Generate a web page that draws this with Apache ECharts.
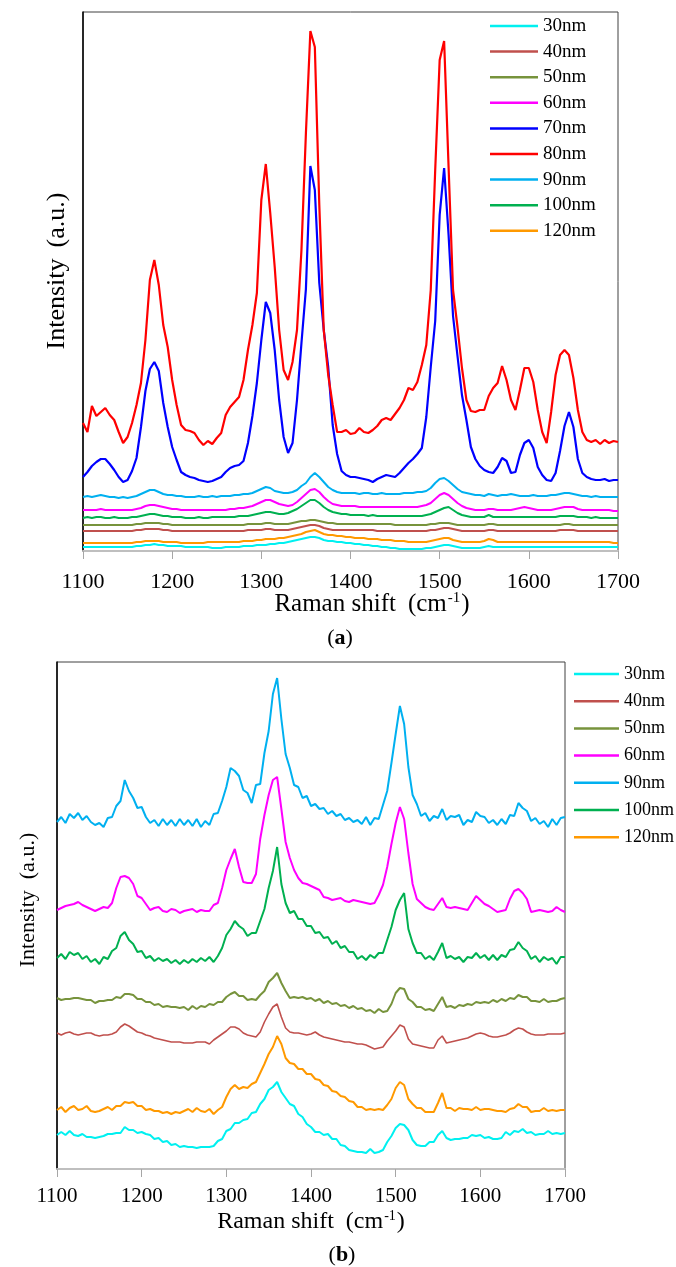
<!DOCTYPE html>
<html><head><meta charset="utf-8">
<script src="https://cdn.jsdelivr.net/npm/echarts@6/dist/echarts.min.js"></script>
<style>html,body{margin:0;padding:0;background:#fff}#c{width:676px;height:1267px}</style>
</head><body><div id="c"></div>
<script>
// Raman shift sampling positions (cm-1)
const shift = [1100,1105,1110,1115,1120,1125,1130,1135,1140,1145,
1150,1155,1160,1165,1170,1175,1180,1185,1190,1195,
1200,1205,1210,1215,1220,1225,1230,1235,1240,1245,
1250,1255,1260,1265,1270,1275,1280,1285,1290,1295,
1300,1305,1310,1315,1320,1325,1330,1335,1340,1345,
1350,1355,1360,1365,1370,1375,1380,1385,1390,1395,
1400,1405,1410,1415,1420,1425,1430,1435,1440,1445,
1450,1455,1460,1465,1470,1475,1480,1485,1490,1495,
1500,1505,1510,1515,1520,1525,1530,1535,1540,1545,
1550,1555,1560,1565,1570,1575,1580,1585,1590,1595,
1600,1605,1610,1615,1620,1625,1630,1635,1640,1645,
1650,1655,1660,1665,1670,1675,1680,1685,1690,1695,
1700];

const legendA = ['30nm','40nm','50nm','60nm','70nm','80nm','90nm','100nm','120nm'];
const legendB = ['30nm','40nm','50nm','60nm','90nm','100nm','120nm'];

// ---- panel (a) intensities (a.u.) ----
const a30 = [4,4,4,4,4,4,4,4,4,4, 4,4,5,5,6,6,7,6,6,5, 5,5,5,4,4,4,4,4,4,3, 3,3,4,4,4,4,5,5,5,6,
 6,6,7,7,8,8,9,10,11,12, 13,14,14,13,11,10,10,9,9,8, 8,7,7,6,6,5,5,4,4,3, 3,2,2,2,2,2,2,3,3,4,
 5,6,6,5,4,3,3,3,3,3, 4,5,4,4,4,4,4,4,4,4, 4,4,4,4,4,4,4,4,4,4, 4,4,4,4,4,4,4,4,4,4, 4];
const a40 = [20,20,20,20,20,20,20,20,20,20, 20,20,21,21,22,22,22,22,21,21, 20,20,20,20,20,20,20,20,20,20, 20,20,20,20,20,20,20,21,21,21,
 21,22,22,21,21,21,21,22,23,24, 25,26,26,25,23,22,21,21,21,21, 21,21,21,21,21,21,20,20,20,20, 20,20,20,20,20,20,20,20,21,21,
 22,23,23,22,21,20,20,20,20,20, 20,21,21,20,20,20,20,20,20,20, 20,20,20,20,20,20,20,21,21,21, 21,20,20,20,20,20,20,20,20,20, 20];
const a50 = [26,26,26,26,26,26,26,26,26,26, 26,26,27,27,28,28,28,28,27,27, 26,26,26,26,26,26,26,26,26,26, 26,26,26,26,26,26,26,27,27,27,
 27,28,28,27,27,27,27,28,29,30, 30,31,31,30,29,28,28,27,27,27, 27,27,27,27,27,27,27,27,27,27, 26,26,26,26,26,26,26,26,27,27,
 28,28,28,27,26,26,26,26,26,26, 26,27,27,26,26,26,26,26,26,26, 26,26,26,26,26,26,26,26,27,27, 26,26,26,26,26,26,26,26,26,26, 26];
const a60 = [41,41,41,41,42,41,41,41,41,41, 41,41,42,43,45,46,46,45,44,43, 42,42,41,41,41,41,41,41,41,41, 41,41,41,42,42,43,43,44,45,47,
 49,51,51,49,47,46,45,46,49,53, 57,61,62,59,54,50,47,46,45,45, 45,45,44,44,44,44,44,44,44,44, 44,44,44,44,44,44,45,46,48,52,
 56,58,56,52,48,45,43,42,41,41, 41,42,42,41,41,41,41,42,43,44, 43,42,41,41,41,41,42,43,44,44, 44,42,41,41,41,41,41,41,41,40, 40];
const a70 = [74,79,85,89,92,92,87,81,74,69, 71,80,93,124,160,182,189,180,148,124, 104,91,79,76,74,73,71,70,69,70, 72,74,79,83,85,86,90,108,135,168,
 211,249,238,201,151,114,98,108,151,208, 262,385,361,268,221,184,126,97,80,76, 74,74,73,72,71,69,72,74,76,75, 74,78,83,88,92,97,103,134,184,230,
 336,383,316,235,195,156,131,104,92,85, 81,79,78,84,93,90,78,79,96,108, 111,103,84,76,71,70,78,100,125,139, 124,92,78,74,72,71,71,72,70,71, 71];
const a80 = [128,119,145,135,139,143,136,131,119,108, 114,128,146,168,211,271,291,266,226,204, 171,146,126,121,120,118,111,106,110,107,
 113,118,136,144,149,154,171,201,226,258, 351,387,338,284,221,181,171,189,221,301, 418,520,504,346,221,176,146,119,119,121,
 117,118,123,119,118,121,125,131,133,131, 137,143,151,163,161,169,186,206,261,381, 491,510,384,261,224,183,151,140,139,141,
 141,155,163,168,185,171,151,141,161,183, 183,169,141,119,108,139,176,196,201,196, 173,141,119,111,109,111,107,111,108,110, 109];
const a90 = [54,55,54,55,56,55,54,54,53,54, 53,54,55,57,59,61,61,59,57,56, 56,55,55,54,54,54,55,54,54,55, 54,55,55,55,56,56,57,57,58,60,
 62,64,63,60,59,58,58,59,61,65, 68,74,78,74,69,64,61,59,58,58, 58,58,57,58,58,57,57,58,57,57, 57,57,58,58,58,59,59,60,63,68,
 72,73,70,66,62,59,58,57,56,56, 55,57,56,55,56,56,57,56,55,55, 55,56,55,55,55,56,56,57,58,58, 57,56,55,55,54,55,54,54,54,54, 54];
const a100 = [33,34,33,34,34,33,33,34,33,33, 33,34,34,35,36,37,37,36,35,35, 34,34,34,33,33,33,34,33,33,34, 34,34,34,34,34,35,35,35,36,37,
 38,39,39,38,37,37,38,40,42,45, 48,51,51,48,44,41,39,38,37,37, 36,36,36,36,35,36,35,35,35,35, 35,35,35,35,35,35,35,36,37,39,
 41,43,44,41,38,36,35,34,34,34, 34,36,34,34,34,34,34,34,34,34, 34,34,34,34,34,34,34,35,35,35, 35,34,34,34,33,34,33,33,33,33, 33];
const a120 = [8,8,8,8,8,8,8,8,8,8, 8,8,9,9,10,10,10,10,9,9, 9,9,8,8,8,8,8,8,9,9, 9,9,9,9,9,9,10,10,10,11,
 11,12,12,12,13,13,14,15,16,17, 19,20,21,19,17,16,16,15,15,14, 14,13,13,13,12,12,12,11,11,11, 10,10,10,9,9,9,9,9,10,11,
 12,13,13,11,10,9,9,9,9,9, 10,12,11,9,9,9,9,9,9,9, 9,9,9,9,9,9,9,9,9,9, 9,9,9,9,9,9,9,9,9,8, 8];

// ---- panel (b) intensities (a.u.) ----
const b30 = [34,37,34,38,34,33,35,32,32,31, 32,33,35,35,36,36,42,39,39,36, 37,35,34,30,31,27,28,24,25,22, 23,22,22,21,22,22,22,23,28,30,
 38,40,46,46,49,50,56,57,65,70, 79,82,87,77,71,65,63,55,52,45, 42,37,37,34,35,30,30,24,23,19, 18,17,17,16,20,16,17,19,27,33,
 41,45,44,39,29,24,23,23,27,27, 34,38,31,29,30,30,31,31,34,33, 34,31,32,30,30,31,37,34,38,37, 40,36,37,34,35,35,38,35,36,35, 36];
const b40 = [136,134,136,137,135,134,135,136,136,134, 133,134,134,135,137,142,145,143,140,137, 136,134,133,131,130,129,128,127,127,127,
 126,126,126,127,127,127,125,129,132,135, 138,142,142,140,136,134,133,132,137,147, 155,162,165,152,141,137,136,136,135,134,
 135,137,134,132,131,130,129,128,127,127, 126,125,125,124,122,120,121,122,128,133, 138,144,142,130,125,124,123,122,121,121,
 129,133,126,127,128,129,130,131,133,135, 136,135,133,132,132,133,134,136,139,141, 140,137,135,134,134,134,135,135,135,135, 136];
const b50 = [171,169,170,170,171,171,170,169,169,166, 168,168,169,169,172,171,175,175,174,170, 170,167,167,164,165,162,163,162,162,161,
 162,159,163,160,163,162,165,164,167,167, 172,175,177,173,173,169,170,169,174,178, 187,191,196,186,178,171,172,171,172,170,
 171,168,170,166,168,165,166,163,164,161, 163,160,161,158,159,156,160,157,158,165, 176,181,180,170,167,162,162,159,160,158,
 165,172,162,163,161,164,163,165,164,167, 166,167,166,169,167,170,168,171,170,174, 172,172,168,168,167,170,167,168,168,170, 171];
const b60 = [259,261,263,264,265,267,264,262,260,258, 260,262,261,266,281,292,293,291,285,273, 271,265,259,261,262,258,257,260,259,256,
 258,259,260,257,259,258,258,264,266,281, 299,310,320,302,287,286,286,295,330,354, 374,389,392,360,327,311,299,291,286,285,
 283,281,279,272,271,269,270,271,268,267, 269,268,267,266,265,266,274,284,302,325, 346,362,350,316,285,270,266,262,260,259,
 265,271,262,261,262,261,260,259,266,273, 269,265,263,260,257,258,259,270,278,280, 276,270,257,258,259,258,257,258,262,259, 257];
const b90 = [347,352,346,355,351,356,349,353,347,344, 346,342,351,352,363,368,389,378,371,361, 362,352,346,349,343,350,344,349,343,350,
 344,349,343,350,342,348,344,355,356,368, 382,401,398,393,379,376,366,384,385,416, 438,475,491,450,415,401,384,382,371,373,
 363,365,360,361,355,358,353,355,349,351, 347,349,345,352,344,351,350,364,378,406, 435,463,445,402,374,365,353,356,348,353,
 351,360,349,353,352,354,344,349,347,357, 353,352,346,349,344,350,345,354,353,366, 361,358,348,351,345,348,342,350,344,351, 352];
const b100 = [211,215,210,217,214,216,210,213,207,210, 205,212,210,218,221,233,237,229,225,217, 218,211,213,208,211,208,210,206,209,205,
 209,206,210,207,211,208,212,207,213,221, 234,240,248,243,240,233,236,236,248,260, 281,298,322,285,266,256,258,250,250,243,
 243,236,237,231,232,225,228,221,223,217, 217,210,213,209,214,211,216,216,229,242, 259,269,276,240,226,216,216,210,213,209,
 217,226,211,213,210,212,207,212,211,216, 211,214,209,214,209,214,212,219,220,227, 221,218,210,213,207,212,209,211,205,212, 212];
const b120 = [59,62,57,61,63,59,60,63,58,57, 58,60,62,59,63,63,67,66,67,63, 63,59,60,58,58,56,57,55,57,56, 58,60,57,61,58,57,60,55,59,62,
 72,80,84,80,82,81,85,87,96,105, 115,122,133,125,111,106,105,100,100,95, 95,90,89,84,83,78,77,73,72,68, 67,62,62,59,60,59,60,59,64,70,
 81,87,84,70,65,61,61,57,57,57, 66,76,61,61,58,61,60,60,59,62, 59,60,60,59,58,58,57,60,61,65, 62,62,57,58,58,61,58,59,58,59, 59];

const colors = {'30nm':'#00F0F0','40nm':'#C0504D','50nm':'#77933C','60nm':'#FF00FF','70nm':'#0000FF',
  '80nm':'#FF0000','90nm':'#00B0F0','100nm':'#00B050','120nm':'#FF9900'};
const FF = "'Liberation Serif','Times New Roman',serif";

function mk(name, vals, idx, w) {
  return {type:'line', name:name, xAxisIndex:idx, yAxisIndex:idx, symbol:'none', showSymbol:false,
    data: shift.map((x,i)=>[x, vals[i]]), lineStyle:{width:w||2, color:colors[name]},
    itemStyle:{color:colors[name]}, animation:false, silent:true};
}
const series = [
  mk('120nm',a120,0), mk('30nm',a30,0), mk('40nm',a40,0), mk('50nm',a50,0), mk('100nm',a100,0),
  mk('60nm',a60,0), mk('90nm',a90,0), mk('70nm',a70,0,2.2), mk('80nm',a80,0,2.2),
  mk('30nm',b30,1), mk('120nm',b120,1), mk('40nm',b40,1,1.6), mk('50nm',b50,1), mk('100nm',b100,1),
  mk('60nm',b60,1), mk('90nm',b90,1)
];

function xAx(idx, fs, margin) {
  return {gridIndex:idx, type:'value', min:1100, max:1700, interval:100,
    axisLine:{show:true, onZero:false, lineStyle:{color:'#BFBFBF', width:2}},
    axisTick:{show:true, length:8, lineStyle:{color:'#A6A6A6', width:1}},
    axisLabel:{color:'#000', fontSize:fs, fontFamily:FF, margin:margin, formatter:(v)=>String(v)},
    splitLine:{show:false}};
}
function yAx(idx, max) {
  return {gridIndex:idx, type:'value', min:0, max:max,
    axisLine:{show:true, lineStyle:{color:'#000', width:1.5}}, axisTick:{show:false},
    axisLabel:{show:false}, splitLine:{show:false}};
}
function xTitle(x, y, fs) {
  return {type:'text', x:x, y:y, style:{text:'{a|Raman shift}{g|(cm}{s|-1}{a|)}', align:'center', verticalAlign:'middle',
    rich:{a:{fontSize:fs, fontFamily:FF, fill:'#000', lineHeight:fs+4},
          g:{fontSize:fs, fontFamily:FF, fill:'#000', lineHeight:fs+4, padding:[0,0,0,12]},
          s:{fontSize:Math.round(fs*0.6), fontFamily:FF, fill:'#000', padding:[0,1,fs*0.5,1]}}}};
}
function yTitle(x, y, fs) {
  return {type:'text', x:x, y:y, rotation:Math.PI/2, style:{text:'{a|Intensity}{g|(a.u.)}', align:'center', verticalAlign:'middle',
    rich:{a:{fontSize:fs, fontFamily:FF, fill:'#000'}, g:{fontSize:fs, fontFamily:FF, fill:'#000', padding:[0,0,0,11]}}}};
}

const chart = echarts.init(document.getElementById('c'), null, {renderer:'canvas'});
chart.setOption({
  backgroundColor:'#fff', animation:false,
  grid:[{left:83, top:12, width:535, height:539, show:true, borderColor:'#404040', borderWidth:1, backgroundColor:'transparent'},
        {left:57, top:662, width:508, height:507, show:true, borderColor:'#404040', borderWidth:1, backgroundColor:'transparent'}],
  xAxis:[xAx(0,22,20), xAx(1,21,17)],
  yAxis:[yAx(0,539), yAx(1,507)],
  legend:[
    {data:legendA, orient:'vertical', left:490, top:16, padding:0, icon:'rect', itemWidth:48, itemHeight:2.5, itemGap:5.6, selectedMode:false,
     textStyle:{fontSize:19, fontFamily:FF, color:'#000', lineHeight:20}},
    {data:legendB, orient:'vertical', left:574, top:664, padding:0, icon:'rect', itemWidth:45, itemHeight:2.5, itemGap:7.2, selectedMode:false,
     textStyle:{fontSize:18, fontFamily:FF, color:'#000', lineHeight:20}}
  ],
  graphic:[
    xTitle(372, 604, 25), xTitle(311, 1222, 24),
    yTitle(57, 271, 26), yTitle(28, 900, 22),
    {type:'text', x:340, y:638, style:{text:'({b|a})', fontSize:22, fontFamily:FF, fill:'#000', align:'center', verticalAlign:'middle',
      rich:{b:{fontSize:22, fontFamily:FF, fontWeight:'bold', fill:'#000'}}}},
    {type:'text', x:342, y:1255, style:{text:'({b|b})', fontSize:22, fontFamily:FF, fill:'#000', align:'center', verticalAlign:'middle',
      rich:{b:{fontSize:22, fontFamily:FF, fontWeight:'bold', fill:'#000'}}}}
  ],
  series:series
});
</script></body></html>
